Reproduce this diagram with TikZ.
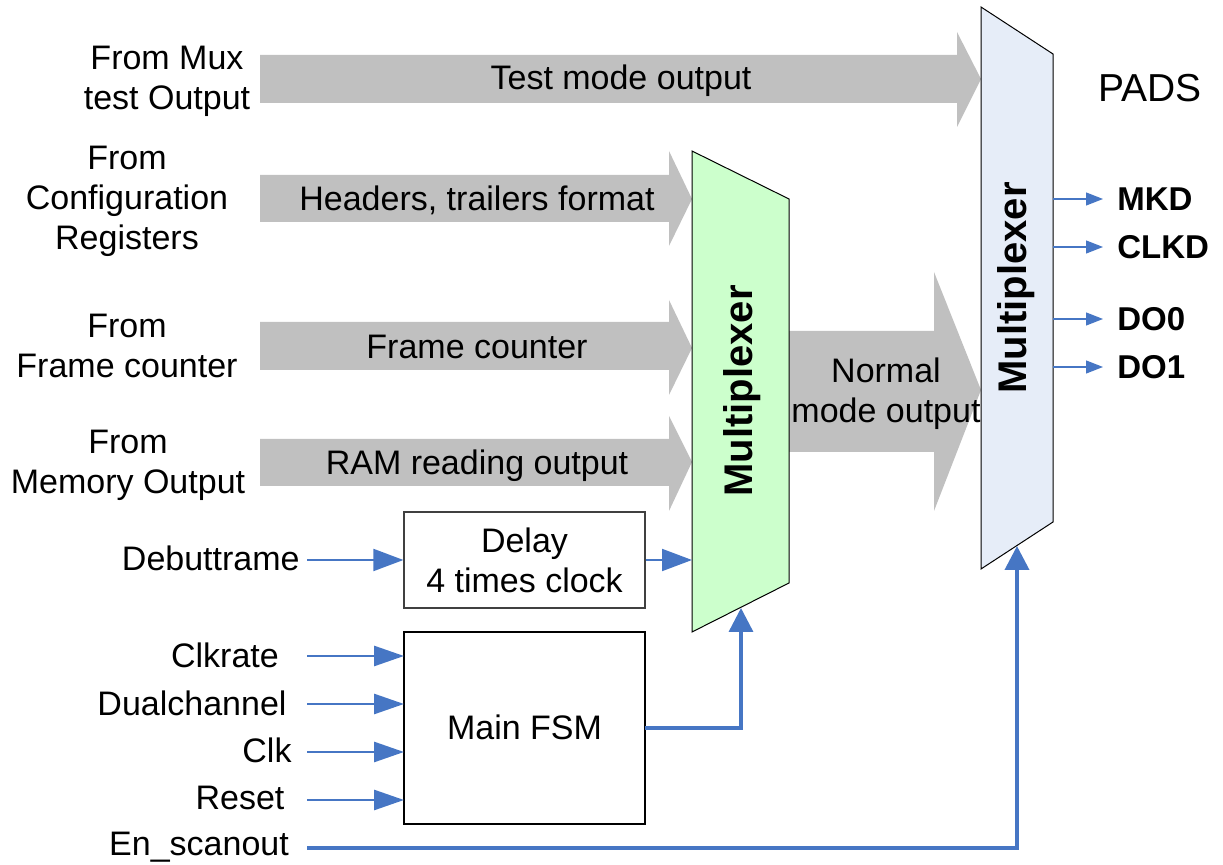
\documentclass[tikz,border=0pt]{standalone}
\usepackage{fontspec}
\setmainfont{Liberation Sans}
\usetikzlibrary{arrows.meta}
\definecolor{arrgray}{RGB}{192,192,192}
\definecolor{lblue}{RGB}{70,118,196}
\definecolor{muxgreen}{RGB}{204,255,204}
\definecolor{muxblue}{RGB}{230,237,248}
\begin{document}
\begin{tikzpicture}[x=0.5pt,y=-0.5pt,
  txt/.style={font=\fontsize{17}{20}\selectfont, align=center, inner sep=0pt},
  btxt/.style={font=\fontsize{16.5}{20}\selectfont\bfseries, inner sep=0pt, anchor=west},
  muxtxt/.style={font=\fontsize{20}{24}\selectfont\bfseries, rotate=90, inner sep=0pt},
  blockarrow/.style={fill=arrgray, draw=none},
  boxstyle/.style={draw=black, line width=0.6pt, fill=white},
  sig/.style={draw=lblue, line width=1.4pt, -{Triangle[length=15pt,width=10pt]}},
  sigthin/.style={draw=lblue, line width=1pt, -{Triangle[length=15pt,width=11pt]}},
  sigout/.style={draw=lblue, line width=0.6pt, -{Triangle[length=8.5pt,width=6.5pt]}},
  sigthick/.style={draw=lblue, line width=1.7pt, -{Triangle[length=12pt,width=12pt]}}
]
\useasboundingbox (0,0) rectangle (1223,865);

% gray block arrows
\fill[blockarrow] (260,55) -- (957,55) -- (957,32) -- (981,79) -- (957,127) -- (957,103) -- (260,103) -- cycle;
\fill[blockarrow] (260,175) -- (669,175) -- (669,151) -- (692,199) -- (669,246) -- (669,222) -- (260,222) -- cycle;
\fill[blockarrow] (260,322) -- (669,322) -- (669,300) -- (692,348) -- (669,395) -- (669,370) -- (260,370) -- cycle;
\fill[blockarrow] (260,439) -- (669,439) -- (669,416) -- (692,462) -- (669,511) -- (669,486) -- (260,486) -- cycle;
\fill[blockarrow] (785,331) -- (934,331) -- (934,272) -- (981,390) -- (934,511) -- (934,452) -- (785,452) -- cycle;

% multiplexers
\draw[fill=muxgreen, line width=0.5pt] (692,151) -- (789,199) -- (789,583) -- (692,632) -- cycle;
\draw[fill=muxblue, line width=0.5pt] (981,7) -- (1053,54) -- (1053,522) -- (981,569) -- cycle;
\node[muxtxt] (mux1) at (742,391) {Multiplexer};
\node[muxtxt] (mux2) at (1016,288) {Multiplexer};
\coordinate (mux1in) at (692,560);
\coordinate (mux1bot) at (741,608);
\coordinate (mux2bot) at (1017,546);

% arrow labels
\node[txt] (tmo) at (621,81) {Test mode output};
\node[txt] (hdr) at (477,200) {Headers, trailers format};
\node[txt] (fc) at (477,347) {Frame counter};
\node[txt] (ram) at (477,466) {RAM reading output};
\node[txt, text depth=0pt] (nmo) at (886,390) {Normal\\mode output};

% left labels
\node[txt] (l1) at (167,81) {From Mux\\test Output};
\node[txt] (l2) at (127,201) {From\\Configuration\\Registers};
\node[txt] (l3) at (127,346) {From\\Frame counter};
\node[txt] (l4) at (128,465) {From\\Memory Output};

% boxes
\node[boxstyle, draw=black!75, minimum width=241pt*0.5, minimum height=96pt*0.5, txt, draw] (delay) at (524.5,560) {Delay\\4 times clock};
\node[boxstyle, minimum width=241pt*0.5, minimum height=192pt*0.5, txt, draw] (fsm) at (524.5,728) {};
\node[txt] (fsmt) at (524.5,727) {Main FSM};

% signal names
\node[txt, anchor=east] (deb) at (300,558) {Debuttrame};
\node[txt] (clkrate) at (225,655) {Clkrate};
\node[txt] (dual) at (192,703) {Dualchannel};
\node[txt] (clk) at (267,750) {Clk};
\node[txt] (reset) at (240,798) {Reset};
\node[txt] (ensc) at (199,847) {En\_scanout};

\coordinate (debs) at (307,560);
\coordinate (s1) at (307,656);
\coordinate (s2) at (307,704);
\coordinate (s3) at (307,752);
\coordinate (s4) at (307,800);
\coordinate (s5) at (307,848);
\coordinate (f1) at (404,656);
\coordinate (f2) at (404,704);
\coordinate (f3) at (404,752);
\coordinate (f4) at (404,800);
\coordinate (fout) at (645,728);

\draw[sigthin] (debs) -- (delay.west);
\draw[sigthin] (delay.east) -- (mux1in);
\draw[sig] (s1) -- (f1);
\draw[sig] (s2) -- (f2);
\draw[sig] (s3) -- (f3);
\draw[sig] (s4) -- (f4);
\draw[sigthick] (fout) -| (mux1bot);
\draw[sigthick, line width=1.9pt] (s5) -| (mux2bot);

% outputs
\node[font=\fontsize{19.5}{22}\selectfont, inner sep=0pt] (pads) at (1150,88) {PADS};
\node[btxt] (mkd) at (1117,199) {MKD};
\node[btxt] (clkd) at (1117,247) {CLKD};
\node[btxt] (do0) at (1117,319) {DO0};
\node[btxt] (do1) at (1117,367) {DO1};
\coordinate (o1) at (1053,199);
\coordinate (o2) at (1053,247);
\coordinate (o3) at (1053,319);
\coordinate (o4) at (1053,367);
\coordinate (e1) at (1103,199);
\coordinate (e2) at (1103,247);
\coordinate (e3) at (1103,319);
\coordinate (e4) at (1103,367);
\draw[sigout] (o1) -- (e1);
\draw[sigout] (o2) -- (e2);
\draw[sigout] (o3) -- (e3);
\draw[sigout] (o4) -- (e4);
\end{tikzpicture}
\end{document}
